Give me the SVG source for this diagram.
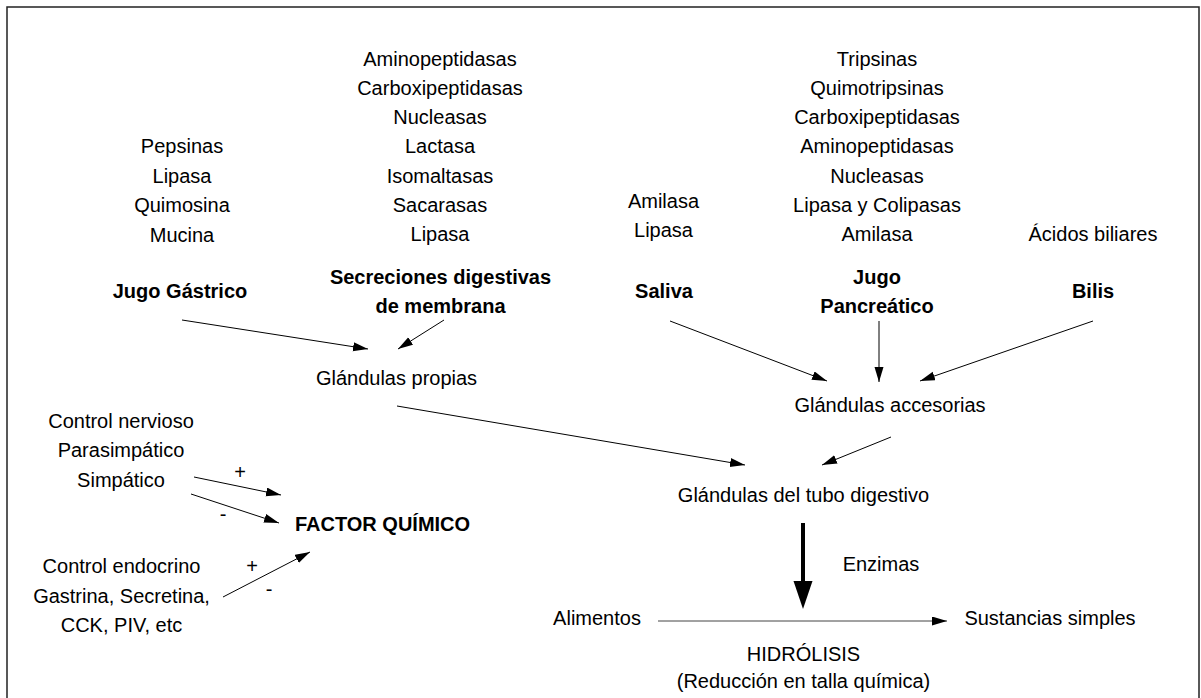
<svg xmlns="http://www.w3.org/2000/svg" width="1201" height="698" viewBox="0 0 1201 698">
<style>
text{font-family:"Liberation Sans",Arial,sans-serif;font-size:20px;fill:#000;text-anchor:middle}
.b{font-weight:bold}
.c{stroke:#000;stroke-width:1;fill:none}
</style>
<defs>
<marker id="ah" markerUnits="userSpaceOnUse" markerWidth="16" markerHeight="10" refX="15" refY="4.5" orient="auto">
<path d="M0,0 L15,4.5 L0,9 z" fill="#000"/>
</marker>
</defs>
<rect x="0" y="0" width="1201" height="698" fill="#fff"/>
<rect x="7" y="7" width="1192" height="720" fill="none" stroke="#222" stroke-width="1.5"/>
<g id="jugo-gastrico">
<text x="182" y="153">Pepsinas</text>
<text x="182" y="182.5">Lipasa</text>
<text x="182" y="212">Quimosina</text>
<text x="182" y="241.5">Mucina</text>
<text class="b" x="180" y="298">Jugo Gástrico</text>
</g>
<g id="secreciones-membrana">
<text x="440" y="66">Aminopeptidasas</text>
<text x="440" y="95">Carboxipeptidasas</text>
<text x="440" y="124">Nucleasas</text>
<text x="440" y="153">Lactasa</text>
<text x="440" y="183">Isomaltasas</text>
<text x="440" y="212">Sacarasas</text>
<text x="440" y="241">Lipasa</text>
<text class="b" x="440.5" y="284">Secreciones digestivas</text>
<text class="b" x="440.5" y="313">de membrana</text>
</g>
<g id="saliva">
<text x="663.5" y="208">Amilasa</text>
<text x="663.5" y="237">Lipasa</text>
<text class="b" x="664" y="298">Saliva</text>
</g>
<g id="jugo-pancreatico">
<text x="877" y="66">Tripsinas</text>
<text x="877" y="95">Quimotripsinas</text>
<text x="877" y="124">Carboxipeptidasas</text>
<text x="877" y="153">Aminopeptidasas</text>
<text x="877" y="183">Nucleasas</text>
<text x="877" y="212">Lipasa y Colipasas</text>
<text x="877" y="241">Amilasa</text>
<text class="b" x="877" y="284">Jugo</text>
<text class="b" x="877" y="313">Pancreático</text>
</g>
<g id="bilis">
<text x="1093" y="241">Ácidos biliares</text>
<text class="b" x="1093" y="298">Bilis</text>
</g>
<g id="glandulas-propias"><text x="396.5" y="385">Glándulas propias</text></g>
<g id="glandulas-accesorias"><text x="890" y="412">Glándulas accesorias</text></g>
<g id="glandulas-tubo"><text x="803.5" y="502">Glándulas del tubo digestivo</text></g>
<g id="control-nervioso">
<text x="121" y="428">Control nervioso</text>
<text x="121" y="457">Parasimpático</text>
<text x="121" y="487">Simpático</text>
</g>
<g id="factor-quimico"><text class="b" x="382.5" y="531">FACTOR QUÍMICO</text></g>
<g id="control-endocrino">
<text x="121.5" y="573">Control endocrino</text>
<text x="121.5" y="603">Gastrina, Secretina,</text>
<text x="121.5" y="632">CCK, PIV, etc</text>
</g>
<g id="alimentos"><text x="597" y="625">Alimentos</text></g>
<g id="sustancias"><text x="1050" y="625">Sustancias simples</text></g>
<g id="hidrolisis">
<text x="803.5" y="661">HIDRÓLISIS</text>
<text x="803.5" y="688">(Reducción en talla química)</text>
</g>
<g id="connectors">
<line class="c" x1="182" y1="320" x2="368" y2="349" marker-end="url(#ah)"/>
<line class="c" x1="444" y1="320" x2="398" y2="349" marker-end="url(#ah)"/>
<line class="c" x1="670" y1="321" x2="827" y2="381" marker-end="url(#ah)"/>
<line class="c" x1="879" y1="321" x2="879" y2="382" marker-end="url(#ah)"/>
<line class="c" x1="1093" y1="321" x2="920" y2="381" marker-end="url(#ah)"/>
<line class="c" x1="397" y1="406" x2="745" y2="465" marker-end="url(#ah)"/>
<line class="c" x1="891" y1="437" x2="822" y2="465" marker-end="url(#ah)"/>
<line class="c" x1="194" y1="477" x2="281" y2="495" marker-end="url(#ah)"/>
<line class="c" x1="191" y1="494" x2="279" y2="523" marker-end="url(#ah)"/>
<line class="c" x1="223" y1="597" x2="310" y2="552" marker-end="url(#ah)"/>
<line x1="803" y1="523" x2="803" y2="583" stroke="#000" stroke-width="4"/>
<path d="M793.5,581 L812.5,581 L803,609 z" fill="#000"/>
<line x1="658" y1="621" x2="947" y2="621" stroke="#444" stroke-width="1" marker-end="url(#ah)"/>
<text x="240" y="479">+</text>
<text x="223" y="521">-</text>
<text x="252" y="573">+</text>
<text x="269" y="596">-</text>
<text x="881" y="571">Enzimas</text>
</g>
</svg>
